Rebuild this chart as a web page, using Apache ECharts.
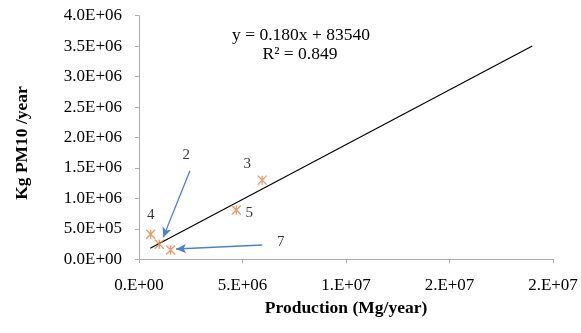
<!DOCTYPE html>
<html><head><meta charset="utf-8">
<script src="https://cdn.jsdelivr.net/npm/echarts@6/dist/echarts.min.js"></script>
<style>html,body{margin:0;padding:0;background:#fff}#c{width:581px;height:333px}</style>
</head><body><div id="c"></div>
<script>
// Data
const pointNames = ['4', '2', '7', '5', '3'];
const productionX = [0.565e6, 0.98e6, 1.53e6, 4.70e6, 5.95e6];
const pm10Y = [4.1e5, 2.46e5, 1.53e5, 8.1e5, 1.30e6];
const trendSlope = 0.180;
const trendIntercept = 83540;
const trendXRange = [0.545e6, 19.0e6];
const xTickLabels = ['0.E+00', '5.E+06', '1.E+07', '2.E+07', '2.E+07'];
const yTickLabels = ['0.0E+00', '5.0E+05', '1.0E+06', '1.5E+06', '2.0E+06', '2.5E+06', '3.0E+06', '3.5E+06', '4.0E+06'];
// callout arrows (data units): [from, to]
const arrow2 = [[2.46e6, 1.455e6], [1.17e6, 3.6e5]];
const arrow7 = [[5.95e6, 2.35e5], [1.79e6, 1.69e5]];

const labelOffsets = {'4': [0, -19], '2': [27, -89], '7': [110, -8], '5': [13, 3], '3': [-15, -16]};

const font = 'Liberation Serif';
const chart = echarts.init(document.getElementById('c'), null, {renderer: 'canvas'});
const pts = productionX.map((x, i) => ({
  name: pointNames[i], value: [x, pm10Y[i]],
  label: {show: true, formatter: pointNames[i], offset: labelOffsets[pointNames[i]],
    color: '#000', fontFamily: font, fontSize: 15, position: 'inside'}
}));
const trend = trendXRange.map(x => [x, trendSlope * x + trendIntercept]);
const axisLineStyle = {color: '#ADADAD', width: 1};
const arrowStyle = {color: '#4F81C9', width: 1.3, type: 'solid'};

chart.setOption({
  animation: false,
  backgroundColor: '#fff',
  grid: {left: 139, right: 28, top: 15.7, bottom: 73.7, containLabel: false},
  xAxis: {
    type: 'value', min: 0, max: 2e7, interval: 5e6,
    axisLine: {show: true, lineStyle: axisLineStyle},
    axisTick: {show: true, length: 4, lineStyle: axisLineStyle},
    splitLine: {show: false},
    axisLabel: {fontFamily: font, fontSize: 17, color: '#000', margin: 18,
      formatter: v => xTickLabels[Math.round(v / 5e6)]},
    name: 'Production (Mg/year)', nameLocation: 'middle', nameGap: 37,
    nameTextStyle: {fontFamily: font, fontSize: 17.5, fontWeight: 'bold', color: '#000'}
  },
  yAxis: {
    type: 'value', min: 0, max: 4e6, interval: 5e5,
    axisLine: {show: true, lineStyle: axisLineStyle},
    axisTick: {show: true, length: 4, lineStyle: axisLineStyle},
    splitLine: {show: false},
    axisLabel: {fontFamily: font, fontSize: 17, color: '#000', margin: 17,
      formatter: v => yTickLabels[Math.round(v / 5e5)]}
  },
  series: [
    {
      type: 'line', data: trend, symbol: 'none', silent: true,
      lineStyle: {color: '#000', width: 1.2}, z: 2,
      markLine: {
        silent: true, symbol: ['none', 'arrow'], symbolSize: [7, 10],
        lineStyle: arrowStyle, label: {show: false},
        data: [
          [{coord: arrow2[0]}, {coord: arrow2[1]}],
          [{coord: arrow7[0]}, {coord: arrow7[1]}]
        ]
      }
    },
    {
      type: 'scatter', data: pts, z: 3,
      symbol: 'path://M0,0L10,10M10,0L0,10M5,0L5,10', symbolSize: 9,
      itemStyle: {color: 'rgba(0,0,0,0)', borderColor: '#E8803A', borderWidth: 1.3}
    }
  ],
  graphic: [
    {type: 'text', x: 301, y: 35, style: {text: 'y = 0.180x + 83540', font: '17.5px "Liberation Serif"', fill: '#000', textAlign: 'center', textVerticalAlign: 'middle'}},
    {type: 'text', x: 300, y: 54, style: {text: 'R² = 0.849', font: '17.5px "Liberation Serif"', fill: '#000', textAlign: 'center', textVerticalAlign: 'middle'}},
    {type: 'text', x: 22, y: 143, rotation: Math.PI / 2, style: {text: 'Kg PM10 /year', font: 'bold 17.5px "Liberation Serif"', fill: '#000', textAlign: 'center', textVerticalAlign: 'middle'}}
  ]
});
</script></body></html>
